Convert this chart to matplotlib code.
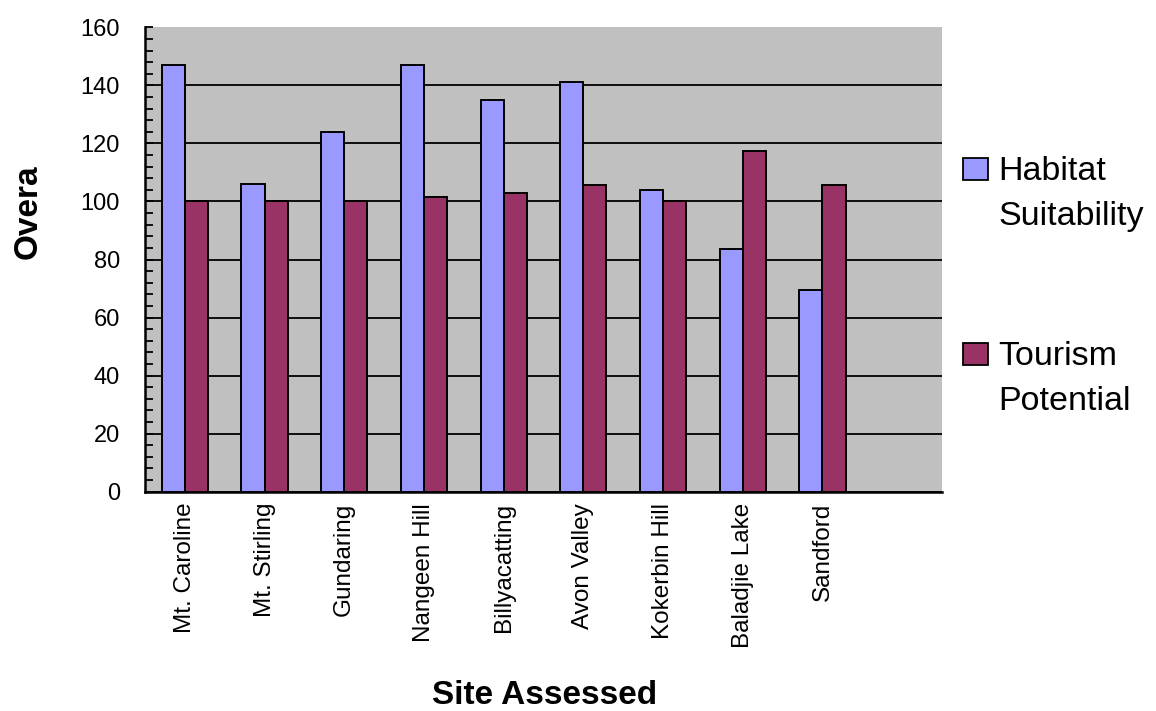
import matplotlib
matplotlib.use("Agg")
import matplotlib.pyplot as plt
from matplotlib.patches import Rectangle
from matplotlib.ticker import MultipleLocator
import numpy as np

plt.rcParams["font.family"] = ["Liberation Sans", "DejaVu Sans"]

sites = ["Mt. Caroline", "Mt. Stirling", "Gundaring", "Nangeen Hill",
         "Billyacatting", "Avon Valley", "Kokerbin Hill", "Baladjie Lake",
         "Sandford"]
habitat = [147, 106, 124, 147, 135, 141, 104, 83.5, 69.5]
tourism = [100, 100, 100, 101.5, 103, 105.5, 100, 117.5, 105.5]
series_names = ["Habitat\nSuitability", "Tourism\nPotential"]
y_ticks = [0, 20, 40, 60, 80, 100, 120, 140, 160]

HAB_COLOR = "#9999FF"
TOUR_COLOR = "#993366"
W, H = 1156, 711

fig = plt.figure(figsize=(W / 100, H / 100), dpi=100)
ax = fig.add_axes([145 / W, 1 - 491.7 / H, 797 / W, 464.4 / H])
ax.set_facecolor("#C0C0C0")

x = np.arange(len(sites))
bw = 0.29
ax.bar(x - bw / 2, habitat, width=bw, color=HAB_COLOR, edgecolor="black",
       linewidth=1.4, zorder=3)
ax.bar(x + bw / 2, tourism, width=bw, color=TOUR_COLOR, edgecolor="black",
       linewidth=1.4, zorder=3)

ax.set_xlim(-0.5, 9.5)
ax.set_ylim(0, 160)
ax.set_yticks(y_ticks)
ax.yaxis.set_minor_locator(MultipleLocator(4))
ax.grid(axis="y", which="major", color="black", linewidth=1.3, zorder=1)
ax.set_axisbelow(True)
# no rule along the top edge of the plot area
ax.get_ygridlines()[-1].set_visible(False)

ax.tick_params(axis="y", which="major", direction="in", length=6, width=1.3,
               pad=18, labelsize=17, right=False)
ax.tick_params(axis="y", which="minor", direction="in", length=6, width=1.3,
               right=False)
ax.set_xticks(x)
ax.set_xticklabels(sites, rotation=90, fontsize=17.5)
ax.tick_params(axis="x", length=0, pad=8)

for side in ("top", "right"):
    ax.spines[side].set_visible(False)
for side in ("left", "bottom"):
    ax.spines[side].set_linewidth(1.8)
    ax.spines[side].set_color("black")

ax.set_ylabel("Overa", fontsize=24, fontweight="bold")
ax.yaxis.set_label_coords((28 - 145) / 797, (491.7 - 212) / 464.4)
ax.yaxis.label.set_va("center")
fig.text(545 / W, 1 - 695 / H, "Site Assessed", fontsize=24,
         fontweight="bold", ha="center", va="center")

# legend drawn in figure pixels
def px(xp, yp):
    return xp / W, 1 - yp / H

for color, name, top in [(HAB_COLOR, series_names[0], 158),
                         (TOUR_COLOR, series_names[1], 343)]:
    x0, y0 = px(963, top + 22)
    fig.add_artist(Rectangle((x0, y0), 25 / W, 22 / H, transform=fig.transFigure,
                             facecolor=color, edgecolor="black", linewidth=1.3))
    line1, line2 = name.split("\n")
    fig.text(*px(998, top + 22), line1, fontsize=24.5, va="baseline", ha="left")
    fig.text(*px(998, top + 67), line2, fontsize=24.5, va="baseline", ha="left")

fig.savefig("out.png", dpi=100)
